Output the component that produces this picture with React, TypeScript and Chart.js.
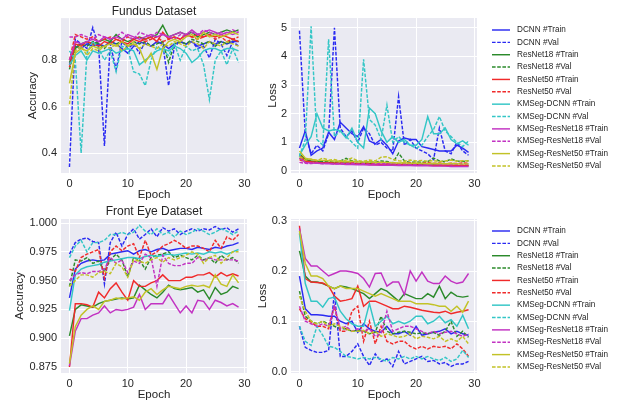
import React, { useEffect, useRef } from "react";
import { Chart, registerables } from "chart.js";

Chart.register(...registerables);

// ---------------- data ----------------
const EPOCHS = [0, 1, 2, 3, 4, 5, 6, 7, 8, 9, 10, 11, 12, 13, 14, 15, 16, 17, 18, 19, 20, 21, 22, 23, 24, 25, 26, 27, 28, 29];
const X_TICKS = [0, 10, 20, 30];

const SERIES_LABELS = [
  "DCNN #Train", "DCNN #Val",
  "ResNet18 #Train", "ResNet18 #Val",
  "ResNet50 #Train", "ResNet50 #Val",
  "KMSeg-DCNN #Train", "KMSeg-DCNN #Val",
  "KMSeg-ResNet18 #Train", "KMSeg-ResNet18 #Val",
  "KMSeg-ResNet50 #Train", "KMSeg-ResNet50 #Val",
];

// Fundus Dataset - accuracy
const FA_DCNN_T = [0.78, 0.86, 0.85, 0.87, 0.86, 0.87, 0.86, 0.88, 0.87, 0.85, 0.83, 0.86, 0.88, 0.87, 0.86, 0.88, 0.87, 0.85, 0.87, 0.88, 0.87, 0.88, 0.86, 0.87, 0.88, 0.87, 0.88, 0.87, 0.88, 0.88];
const FA_DCNN_V = [0.34, 0.89, 0.87, 0.85, 0.94, 0.86, 0.43, 0.87, 0.76, 0.88, 0.85, 0.87, 0.83, 0.88, 0.86, 0.88, 0.87, 0.69, 0.86, 0.88, 0.87, 0.88, 0.85, 0.86, 0.81, 0.89, 0.87, 0.82, 0.88, 0.86];
const FA_R18_T = [0.79, 0.85, 0.87, 0.88, 0.87, 0.88, 0.89, 0.88, 0.91, 0.89, 0.88, 0.89, 0.90, 0.89, 0.90, 0.91, 0.95, 0.90, 0.91, 0.92, 0.91, 0.92, 0.90, 0.91, 0.92, 0.91, 0.92, 0.93, 0.92, 0.93];
const FA_R18_V = [0.76, 0.86, 0.87, 0.86, 0.88, 0.87, 0.85, 0.88, 0.87, 0.88, 0.86, 0.88, 0.87, 0.88, 0.86, 0.87, 0.88, 0.79, 0.87, 0.88, 0.87, 0.89, 0.88, 0.87, 0.88, 0.86, 0.88, 0.87, 0.89, 0.88];
const FA_R50_T = [0.77, 0.87, 0.86, 0.88, 0.87, 0.86, 0.88, 0.87, 0.89, 0.88, 0.87, 0.89, 0.88, 0.89, 0.90, 0.88, 0.92, 0.89, 0.90, 0.89, 0.91, 0.90, 0.91, 0.90, 0.91, 0.90, 0.91, 0.90, 0.89, 0.88];
const FA_R50_V = [0.80, 0.91, 0.90, 0.89, 0.90, 0.88, 0.89, 0.90, 0.89, 0.88, 0.90, 0.89, 0.90, 0.88, 0.89, 0.90, 0.88, 0.89, 0.90, 0.89, 0.91, 0.90, 0.89, 0.90, 0.91, 0.89, 0.90, 0.88, 0.89, 0.90];
const FA_KD_T = [0.78, 0.82, 0.84, 0.80, 0.84, 0.83, 0.84, 0.85, 0.83, 0.84, 0.85, 0.84, 0.78, 0.80, 0.82, 0.84, 0.85, 0.84, 0.86, 0.85, 0.83, 0.79, 0.81, 0.84, 0.85, 0.85, 0.84, 0.85, 0.85, 0.84];
const FA_KD_V = [0.84, 0.80, 0.40, 0.83, 0.88, 0.85, 0.80, 0.84, 0.75, 0.86, 0.85, 0.75, 0.74, 0.69, 0.80, 0.86, 0.84, 0.82, 0.87, 0.80, 0.86, 0.84, 0.85, 0.78, 0.63, 0.80, 0.84, 0.78, 0.85, 0.79];
const FA_KR18_T = [0.80, 0.88, 0.87, 0.88, 0.89, 0.88, 0.90, 0.89, 0.90, 0.89, 0.91, 0.90, 0.89, 0.90, 0.91, 0.90, 0.91, 0.90, 0.91, 0.92, 0.91, 0.93, 0.91, 0.92, 0.93, 0.92, 0.91, 0.92, 0.91, 0.92];
const FA_KR18_V = [0.90, 0.90, 0.91, 0.90, 0.89, 0.91, 0.90, 0.89, 0.90, 0.92, 0.90, 0.89, 0.92, 0.91, 0.90, 0.92, 0.91, 0.90, 0.89, 0.91, 0.90, 0.92, 0.91, 0.93, 0.92, 0.91, 0.92, 0.91, 0.93, 0.92];
const FA_KR50_T = [0.70, 0.83, 0.85, 0.84, 0.86, 0.85, 0.86, 0.87, 0.86, 0.88, 0.86, 0.87, 0.85, 0.79, 0.83, 0.76, 0.85, 0.88, 0.89, 0.88, 0.90, 0.91, 0.89, 0.92, 0.90, 0.91, 0.90, 0.91, 0.92, 0.91];
const FA_KR50_V = [0.61, 0.84, 0.86, 0.82, 0.85, 0.84, 0.86, 0.85, 0.87, 0.84, 0.86, 0.88, 0.85, 0.87, 0.86, 0.85, 0.87, 0.86, 0.88, 0.87, 0.86, 0.88, 0.87, 0.85, 0.88, 0.87, 0.86, 0.88, 0.87, 0.86];

// Fundus Dataset - loss
const FL_DCNN_T = [0.80, 1.40, 0.55, 0.70, 0.80, 1.35, 1.10, 1.70, 1.50, 1.30, 1.20, 1.55, 1.05, 0.95, 1.10, 0.90, 0.60, 1.05, 1.15, 1.10, 1.10, 0.85, 0.80, 0.75, 0.70, 0.70, 0.70, 0.90, 0.80, 0.65];
const FL_DCNN_V = [4.90, 1.30, 0.60, 0.90, 0.70, 1.30, 5.00, 1.50, 1.20, 1.40, 1.00, 1.50, 1.30, 0.90, 1.00, 0.80, 0.70, 2.60, 0.90, 1.10, 0.80, 0.70, 0.60, 0.40, 1.50, 0.70, 0.60, 1.00, 0.70, 0.55];
const FL_R18_T = [0.60, 0.40, 0.35, 0.33, 0.30, 0.30, 0.28, 0.27, 0.28, 0.27, 0.26, 0.25, 0.26, 0.24, 0.23, 0.24, 0.22, 0.24, 0.22, 0.21, 0.22, 0.21, 0.20, 0.21, 0.20, 0.19, 0.20, 0.19, 0.18, 0.19];
const FL_R18_V = [0.45, 0.35, 0.33, 0.34, 0.32, 0.33, 0.30, 0.35, 0.44, 0.35, 0.33, 0.30, 0.32, 0.30, 0.35, 0.33, 0.28, 0.62, 0.35, 0.30, 0.32, 0.30, 0.33, 0.45, 0.35, 0.32, 0.42, 0.35, 0.33, 0.36];
const FL_R50_T = [0.55, 0.35, 0.32, 0.30, 0.28, 0.28, 0.27, 0.26, 0.25, 0.26, 0.24, 0.24, 0.23, 0.22, 0.23, 0.22, 0.21, 0.22, 0.21, 0.20, 0.21, 0.20, 0.20, 0.19, 0.20, 0.19, 0.19, 0.18, 0.19, 0.18];
const FL_R50_V = [0.40, 0.30, 0.28, 0.30, 0.27, 0.29, 0.26, 0.28, 0.27, 0.30, 0.26, 0.28, 0.25, 0.27, 0.30, 0.26, 0.28, 0.25, 0.27, 0.29, 0.25, 0.27, 0.30, 0.26, 0.28, 0.25, 0.27, 0.26, 0.28, 0.27];
const FL_KD_T = [0.55, 0.90, 1.20, 2.00, 1.50, 1.40, 1.45, 1.40, 1.15, 1.50, 1.00, 0.80, 2.20, 2.00, 1.40, 1.00, 1.20, 1.00, 1.10, 0.90, 0.90, 1.10, 1.90, 1.30, 1.30, 1.50, 1.10, 0.95, 1.05, 0.90];
const FL_KD_V = [0.50, 1.10, 5.05, 1.10, 0.90, 4.60, 1.20, 1.40, 1.20, 1.00, 0.80, 3.90, 1.80, 1.60, 1.10, 2.30, 1.00, 1.20, 1.00, 0.90, 0.80, 0.90, 1.20, 1.45, 1.90, 1.40, 1.20, 1.00, 0.85, 1.05];
const FL_KR18_T = [0.45, 0.30, 0.28, 0.27, 0.26, 0.25, 0.24, 0.24, 0.23, 0.23, 0.22, 0.22, 0.21, 0.21, 0.20, 0.20, 0.20, 0.19, 0.19, 0.19, 0.18, 0.18, 0.18, 0.17, 0.17, 0.17, 0.16, 0.16, 0.16, 0.16];
const FL_KR18_V = [0.30, 0.27, 0.26, 0.28, 0.25, 0.27, 0.24, 0.26, 0.25, 0.27, 0.24, 0.26, 0.23, 0.25, 0.27, 0.24, 0.26, 0.23, 0.25, 0.24, 0.23, 0.25, 0.24, 0.26, 0.23, 0.25, 0.22, 0.24, 0.23, 0.24];
const FL_KR50_T = [0.70, 0.45, 0.40, 0.38, 0.37, 0.36, 0.35, 0.34, 0.33, 0.34, 0.32, 0.31, 0.32, 0.30, 0.31, 0.30, 0.29, 0.28, 0.29, 0.27, 0.28, 0.27, 0.26, 0.27, 0.26, 0.25, 0.26, 0.25, 0.24, 0.25];
const FL_KR50_V = [0.50, 0.38, 0.42, 0.36, 0.45, 0.38, 0.40, 0.35, 0.38, 0.45, 0.36, 0.34, 0.38, 0.35, 0.48, 0.50, 0.40, 0.36, 0.34, 0.38, 0.35, 0.37, 0.34, 0.36, 0.33, 0.35, 0.38, 0.34, 0.36, 0.35];

// Front Eye Dataset - accuracy
const EA_DCNN_T = [0.935, 0.960, 0.965, 0.967, 0.968, 0.967, 0.968, 0.973, 0.974, 0.975, 0.976, 0.973, 0.976, 0.977, 0.975, 0.977, 0.978, 0.976, 0.977, 0.978, 0.978, 0.977, 0.979, 0.978, 0.977, 0.979, 0.978, 0.980, 0.981, 0.983];
const EA_DCNN_V = [0.973, 0.983, 0.986, 0.987, 0.984, 0.983, 0.947, 0.983, 0.992, 0.980, 0.990, 0.995, 0.986, 0.990, 0.995, 0.988, 0.996, 0.993, 0.995, 0.990, 0.993, 0.995, 0.993, 0.995, 0.994, 0.997, 0.994, 0.996, 0.992, 0.995];
const EA_R18_T = [0.902, 0.925, 0.929, 0.928, 0.927, 0.930, 0.932, 0.933, 0.934, 0.935, 0.934, 0.935, 0.946, 0.942, 0.938, 0.935, 0.940, 0.946, 0.943, 0.942, 0.943, 0.944, 0.940, 0.942, 0.934, 0.944, 0.938, 0.940, 0.945, 0.943];
const EA_R18_V = [0.945, 0.968, 0.967, 0.970, 0.965, 0.967, 0.958, 0.968, 0.973, 0.968, 0.953, 0.970, 0.968, 0.960, 0.970, 0.972, 0.973, 0.975, 0.970, 0.972, 0.970, 0.968, 0.972, 0.968, 0.970, 0.965, 0.972, 0.968, 0.970, 0.965];
const EA_R50_T = [0.875, 0.930, 0.930, 0.929, 0.927, 0.940, 0.935, 0.943, 0.948, 0.940, 0.933, 0.950, 0.945, 0.945, 0.948, 0.950, 0.955, 0.950, 0.950, 0.950, 0.953, 0.953, 0.955, 0.955, 0.957, 0.953, 0.957, 0.954, 0.956, 0.954];
const EA_R50_V = [0.960, 0.958, 0.970, 0.973, 0.975, 0.977, 0.952, 0.975, 0.980, 0.976, 0.980, 0.982, 0.970, 0.985, 0.972, 0.975, 0.980, 0.982, 0.985, 0.982, 0.978, 0.980, 0.980, 0.978, 0.975, 0.985, 0.978, 0.988, 0.985, 0.990];
const EA_KD_T = [0.924, 0.955, 0.960, 0.962, 0.963, 0.964, 0.966, 0.967, 0.968, 0.969, 0.970, 0.970, 0.969, 0.971, 0.972, 0.971, 0.972, 0.973, 0.972, 0.973, 0.974, 0.973, 0.974, 0.973, 0.975, 0.974, 0.975, 0.973, 0.975, 0.977];
const EA_KD_V = [0.970, 0.980, 0.985, 0.975, 0.983, 0.983, 0.985, 0.990, 0.990, 0.992, 0.990, 0.992, 0.998, 0.993, 0.990, 0.995, 0.990, 0.992, 0.988, 0.993, 0.990, 0.992, 0.995, 0.993, 0.990, 0.992, 0.995, 0.993, 0.990, 0.993];
const EA_KR18_T = [0.876, 0.906, 0.917, 0.917, 0.920, 0.922, 0.928, 0.922, 0.925, 0.924, 0.925, 0.927, 0.938, 0.925, 0.930, 0.930, 0.930, 0.938, 0.930, 0.922, 0.928, 0.922, 0.933, 0.932, 0.925, 0.933, 0.931, 0.928, 0.930, 0.927];
const EA_KR18_V = [0.950, 0.955, 0.957, 0.956, 0.958, 0.958, 0.960, 0.970, 0.965, 0.968, 0.957, 0.967, 0.965, 0.973, 0.970, 0.945, 0.972, 0.965, 0.963, 0.963, 0.965, 0.965, 0.970, 0.967, 0.970, 0.968, 0.968, 0.968, 0.968, 0.967];
const EA_KR50_T = [0.878, 0.910, 0.920, 0.925, 0.928, 0.925, 0.932, 0.933, 0.935, 0.934, 0.935, 0.936, 0.933, 0.940, 0.943, 0.938, 0.942, 0.945, 0.944, 0.943, 0.945, 0.946, 0.945, 0.946, 0.944, 0.955, 0.947, 0.945, 0.955, 0.948];
const EA_KR50_V = [0.945, 0.950, 0.955, 0.955, 0.953, 0.957, 0.958, 0.956, 0.965, 0.962, 0.953, 0.968, 0.967, 0.965, 0.968, 0.970, 0.966, 0.970, 0.968, 0.970, 0.972, 0.975, 0.973, 0.965, 0.970, 0.972, 0.965, 0.970, 0.975, 0.975];

// Front Eye Dataset - loss
const EL_DCNN_T = [0.190, 0.125, 0.113, 0.113, 0.112, 0.110, 0.110, 0.100, 0.095, 0.100, 0.078, 0.095, 0.085, 0.080, 0.078, 0.090, 0.075, 0.075, 0.080, 0.072, 0.090, 0.072, 0.075, 0.078, 0.080, 0.085, 0.075, 0.080, 0.075, 0.072];
const EL_DCNN_V = [0.090, 0.048, 0.042, 0.038, 0.038, 0.042, 0.158, 0.030, 0.030, 0.040, 0.055, 0.030, 0.012, 0.035, 0.020, 0.025, 0.010, 0.040, 0.015, 0.020, 0.025, 0.030, 0.020, 0.022, 0.015, 0.018, 0.010, 0.015, 0.015, 0.020];
const EL_R18_T = [0.240, 0.190, 0.178, 0.178, 0.175, 0.170, 0.165, 0.170, 0.168, 0.165, 0.160, 0.155, 0.145, 0.155, 0.165, 0.160, 0.150, 0.140, 0.155, 0.150, 0.145, 0.145, 0.155, 0.148, 0.170, 0.145, 0.158, 0.150, 0.148, 0.150];
const EL_R18_V = [0.160, 0.110, 0.100, 0.095, 0.100, 0.095, 0.090, 0.085, 0.085, 0.080, 0.082, 0.080, 0.075, 0.078, 0.110, 0.080, 0.075, 0.078, 0.080, 0.078, 0.075, 0.077, 0.075, 0.078, 0.072, 0.080, 0.100, 0.070, 0.080, 0.068];
const EL_R50_T = [0.290, 0.185, 0.178, 0.177, 0.176, 0.170, 0.150, 0.140, 0.142, 0.145, 0.170, 0.130, 0.140, 0.140, 0.135, 0.130, 0.125, 0.125, 0.130, 0.128, 0.125, 0.122, 0.120, 0.118, 0.117, 0.120, 0.115, 0.118, 0.120, 0.123];
const EL_R50_V = [0.125, 0.105, 0.098, 0.090, 0.090, 0.085, 0.130, 0.080, 0.080, 0.120, 0.130, 0.060, 0.100, 0.055, 0.090, 0.060, 0.055, 0.060, 0.060, 0.050, 0.045, 0.050, 0.045, 0.050, 0.048, 0.050, 0.045, 0.055, 0.045, 0.030];
const EL_KD_T = [0.275, 0.175, 0.140, 0.140, 0.128, 0.145, 0.148, 0.120, 0.105, 0.095, 0.090, 0.090, 0.135, 0.090, 0.100, 0.110, 0.095, 0.100, 0.095, 0.100, 0.110, 0.110, 0.095, 0.100, 0.110, 0.097, 0.103, 0.090, 0.112, 0.085];
const EL_KD_V = [0.090, 0.060, 0.052, 0.090, 0.072, 0.050, 0.048, 0.040, 0.030, 0.028, 0.025, 0.028, 0.025, 0.028, 0.025, 0.020, 0.028, 0.025, 0.030, 0.025, 0.030, 0.025, 0.030, 0.025, 0.022, 0.028, 0.020, 0.025, 0.042, 0.028];
const EL_KR18_T = [0.285, 0.225, 0.210, 0.210, 0.200, 0.190, 0.195, 0.200, 0.200, 0.198, 0.195, 0.185, 0.168, 0.195, 0.196, 0.170, 0.178, 0.178, 0.153, 0.200, 0.180, 0.198, 0.180, 0.175, 0.175, 0.190, 0.180, 0.175, 0.178, 0.195];
const EL_KR18_V = [0.130, 0.100, 0.095, 0.090, 0.095, 0.090, 0.130, 0.085, 0.090, 0.080, 0.085, 0.080, 0.085, 0.070, 0.075, 0.120, 0.080, 0.085, 0.090, 0.090, 0.085, 0.080, 0.075, 0.080, 0.075, 0.078, 0.080, 0.075, 0.070, 0.075];
const EL_KR50_T = [0.280, 0.215, 0.190, 0.190, 0.185, 0.170, 0.165, 0.170, 0.165, 0.165, 0.165, 0.160, 0.155, 0.150, 0.155, 0.150, 0.145, 0.140, 0.140, 0.140, 0.135, 0.135, 0.135, 0.133, 0.130, 0.130, 0.120, 0.130, 0.118, 0.140];
const EL_KR50_V = [0.150, 0.120, 0.100, 0.095, 0.100, 0.090, 0.095, 0.090, 0.085, 0.080, 0.080, 0.082, 0.075, 0.080, 0.070, 0.075, 0.072, 0.068, 0.070, 0.075, 0.065, 0.070, 0.068, 0.065, 0.070, 0.060, 0.065, 0.060, 0.070, 0.055];

const FUNDUS_ACC = [FA_DCNN_T, FA_DCNN_V, FA_R18_T, FA_R18_V, FA_R50_T, FA_R50_V, FA_KD_T, FA_KD_V, FA_KR18_T, FA_KR18_V, FA_KR50_T, FA_KR50_V];
const FUNDUS_LOSS = [FL_DCNN_T, FL_DCNN_V, FL_R18_T, FL_R18_V, FL_R50_T, FL_R50_V, FL_KD_T, FL_KD_V, FL_KR18_T, FL_KR18_V, FL_KR50_T, FL_KR50_V];
const EYE_ACC = [EA_DCNN_T, EA_DCNN_V, EA_R18_T, EA_R18_V, EA_R50_T, EA_R50_V, EA_KD_T, EA_KD_V, EA_KR18_T, EA_KR18_V, EA_KR50_T, EA_KR50_V];
const EYE_LOSS = [EL_DCNN_T, EL_DCNN_V, EL_R18_T, EL_R18_V, EL_R50_T, EL_R50_V, EL_KD_T, EL_KD_V, EL_KR18_T, EL_KR18_V, EL_KR50_T, EL_KR50_V];

const FUNDUS_ACC_TICKS = [0.4, 0.6, 0.8];
const FUNDUS_LOSS_TICKS = [0, 1, 2, 3, 4, 5];
const EYE_ACC_TICKS = [0.875, 0.9, 0.925, 0.95, 0.975, 1.0];
const EYE_LOSS_TICKS = [0.0, 0.1, 0.2, 0.3];

// ---------------- style ----------------
const MODEL_COLORS = ["#2a2af2", "#2b8a2b", "#f02a2a", "#33c6c6", "#c232c2", "#c2c226"];
const TEXT = "#262626";
const FAMILY = '"Liberation Sans", Arial, Helvetica, sans-serif';
const DASH = [3.6, 1.6];

const bgPlugin = {
  id: "plotBg",
  beforeDraw(chart: any) {
    const { ctx, chartArea } = chart;
    ctx.save();
    ctx.fillStyle = "#EAEAF2";
    ctx.fillRect(chartArea.left, chartArea.top, chartArea.right - chartArea.left, chartArea.bottom - chartArea.top);
    ctx.restore();
  },
};

const sideLegendPlugin = {
  id: "sideLegend",
  afterDraw(chart: any, _args: any, opts: any) {
    if (!opts || !opts.show) return;
    const { ctx, chartArea } = chart;
    ctx.save();
    chart.data.datasets.forEach((ds: any, i: number) => {
      const y = chartArea.top + opts.offsetTop + i * opts.spacing;
      const x0 = chartArea.right + 15;
      ctx.strokeStyle = ds.borderColor;
      ctx.lineWidth = ds.borderWidth;
      ctx.setLineDash(ds.borderDash || []);
      ctx.beginPath();
      ctx.moveTo(x0, y);
      ctx.lineTo(x0 + 18, y);
      ctx.stroke();
      ctx.setLineDash([]);
      ctx.fillStyle = TEXT;
      ctx.font = `8.2px ${FAMILY}`;
      ctx.textBaseline = "middle";
      ctx.textAlign = "left";
      ctx.fillText(ds.label, x0 + 25, y);
    });
    ctx.restore();
  },
};

type PanelProps = {
  series: number[][];
  left: number;
  top: number;
  width: number;
  height: number;
  title?: string;
  titlePadTop?: number;
  titlePadBottom?: number;
  padTop: number;
  padRight: number;
  yLabel: string;
  yLabelPad: number;
  yAxisWidth: number;
  yMin: number;
  yMax: number;
  yTicks: number[];
  yDecimals: number;
  legend: boolean;
};

function Panel(p: PanelProps) {
  const ref = useRef<HTMLCanvasElement | null>(null);
  useEffect(() => {
    if (!ref.current) return;
    const datasets = p.series.map((values, i) => ({
      label: SERIES_LABELS[i],
      data: values,
      borderColor: MODEL_COLORS[Math.floor(i / 2)],
      borderWidth: 1.45,
      borderDash: i % 2 === 1 ? DASH : [],
      pointRadius: 0,
      fill: false,
      tension: 0,
      order: p.series.length - 1 - i,
    }));
    const tickFont = { family: FAMILY, size: 11, lineHeight: 1.2 };
    const labelFont = { family: FAMILY, size: 11.5, lineHeight: 1.2 };
    const chart = new Chart(ref.current, {
      type: "line",
      data: { labels: EPOCHS, datasets },
      options: {
        animation: false,
        responsive: false,
        maintainAspectRatio: false,
        events: [],
        layout: { padding: { left: 0, right: p.padRight, top: p.padTop, bottom: 0 } },
        plugins: {
          legend: { display: false },
          tooltip: { enabled: false },
          title: {
            display: !!p.title,
            text: p.title || "",
            fullSize: false,
            color: TEXT,
            font: { family: FAMILY, size: 12, lineHeight: 1.1, weight: "normal" },
            padding: { top: p.titlePadTop || 0, bottom: p.titlePadBottom || 0 },
          },
          sideLegend: { show: p.legend, offsetTop: 12, spacing: 12.36 },
        } as any,
        scales: {
          x: {
            type: "linear",
            min: -1.45,
            max: 30.45,
            afterBuildTicks: (s: any) => {
              s.ticks = X_TICKS.map((v) => ({ value: v }));
            },
            afterFit: (s: any) => {
              s.height = 30;
            },
            grid: { color: "#ffffff", lineWidth: 1, drawTicks: false },
            border: { display: false },
            ticks: { padding: 4, color: TEXT, font: tickFont, callback: (v: any) => String(v) },
            title: { display: true, text: "Epoch", color: TEXT, font: labelFont, padding: { top: 0, bottom: 1.2 } },
          },
          y: {
            type: "linear",
            min: p.yMin,
            max: p.yMax,
            afterBuildTicks: (s: any) => {
              s.ticks = p.yTicks.map((v) => ({ value: v }));
            },
            afterFit: (s: any) => {
              s.width = p.yAxisWidth;
            },
            grid: { color: "#ffffff", lineWidth: 1, drawTicks: false },
            border: { display: false },
            ticks: { padding: 4, color: TEXT, font: tickFont, callback: (v: any) => Number(v).toFixed(p.yDecimals) },
            title: { display: true, text: p.yLabel, color: TEXT, font: labelFont, padding: { top: p.yLabelPad, bottom: 0 } },
          },
        },
      } as any,
      plugins: [bgPlugin, sideLegendPlugin],
    });
    return () => chart.destroy();
  }, []);
  return (
    <div style={{ position: "absolute", left: p.left, top: p.top, width: p.width, height: p.height }}>
      <canvas ref={ref} width={p.width} height={p.height} style={{ width: p.width, height: p.height, display: "block" }} />
    </div>
  );
}

export default function App() {
  return (
    <div style={{ position: "fixed", left: 0, top: 0, width: 626, height: 403, background: "#ffffff", overflow: "hidden" }}>
      <Panel
        series={FUNDUS_ACC}
        left={0} top={0} width={255} height={203}
        title="Fundus Dataset" titlePadTop={4.9} titlePadBottom={0}
        padTop={0} padRight={8}
        yLabel="Accuracy" yLabelPad={25.6} yAxisWidth={61}
        yMin={0.314} yMax={0.981} yTicks={FUNDUS_ACC_TICKS} yDecimals={1}
        legend={false}
      />
      <Panel
        series={FUNDUS_LOSS}
        left={255} top={0} width={371} height={203}
        padTop={18} padRight={149}
        yLabel="Loss" yLabelPad={11.3} yAxisWidth={36}
        yMin={-0.07} yMax={5.34} yTicks={FUNDUS_LOSS_TICKS} yDecimals={0}
        legend={true}
      />
      <Panel
        series={EYE_ACC}
        left={0} top={203} width={255} height={200}
        title="Front Eye Dataset" titlePadTop={2.4} titlePadBottom={0.4}
        padTop={0} padRight={8}
        yLabel="Accuracy" yLabelPad={13} yAxisWidth={61}
        yMin={0.8698} yMax={1.0035} yTicks={EYE_ACC_TICKS} yDecimals={3}
        legend={false}
      />
      <Panel
        series={EYE_LOSS}
        left={255} top={203} width={371} height={200}
        padTop={16} padRight={149}
        yLabel="Loss" yLabelPad={1} yAxisWidth={36}
        yMin={-0.003} yMax={0.3035} yTicks={EYE_LOSS_TICKS} yDecimals={1}
        legend={true}
      />
    </div>
  );
}
